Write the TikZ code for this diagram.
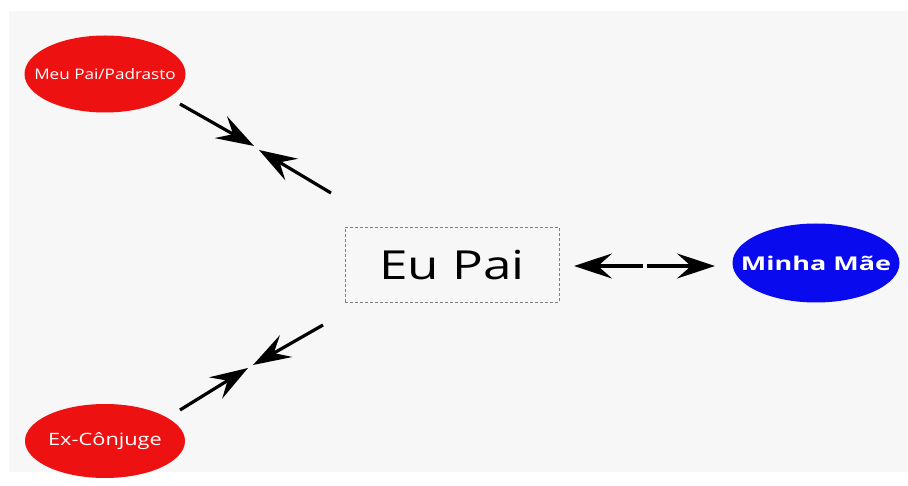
\documentclass[tikz,border=0pt]{standalone}
\usepackage{graphicx}
\usepackage{fontspec}
\setmainfont{Open Sans}
\usetikzlibrary{arrows.meta,shapes.geometric}
\definecolor{bggray}{HTML}{F7F7F7}
\definecolor{nodered}{HTML}{EE1111}
\definecolor{nodeblue}{HTML}{0A0AEE}
\newcommand{\wide}[2]{\makebox[0pt]{\scalebox{#1}[1]{#2}}}
\tikzset{
  relnode/.style={ellipse,draw=none,text=white,inner sep=0pt},
  centerbox/.style={draw=gray,densely dashed,line width=0.8pt,minimum width=214pt,minimum height=75pt,inner sep=0pt,font=\fontsize{40}{44}\selectfont},
  arr/.style={line width=3.2pt,-{Stealth[length=38pt,width=25pt,inset=14pt]}}
}
\begin{document}
\begin{tikzpicture}[x=1pt,y=-1pt]
\useasboundingbox (0,0) rectangle (908,486);
\fill[white] (0,0) rectangle (908,486);
\fill[bggray] (9,11) rectangle (908,472);
\node[relnode,fill=nodered,minimum width=161pt,minimum height=77pt,font=\fontsize{14.5}{16}\selectfont] (mp) at (105,74) {\wide{1.18}{Meu Pai/Padrasto}};
\node[relnode,fill=nodered,minimum width=160pt,minimum height=74pt,font=\fontsize{17}{19}\selectfont] (ex) at (105,441) {\wide{1.28}{Ex-Cônjuge}};
\node[relnode,fill=nodeblue,minimum width=167pt,minimum height=79pt,font=\bfseries\fontsize{19}{21}\selectfont] (mm) at (816,263) {\wide{1.42}{Minha Mãe}};
\node[centerbox] (eu) at (452,265) {\wide{1.28}{Eu Pai}};
% meeting points and free ends
\coordinate (a1) at (180,104);
\coordinate (t1) at (254,146);
\coordinate (t2) at (259,150);
\coordinate (a2) at (331,193);
\coordinate (b1) at (180,410);
\coordinate (u1) at (248,368);
\coordinate (u2) at (253,365);
\coordinate (b2) at (323,325);
\coordinate (c1) at (643,266);
\coordinate (v1) at (574,266);
\coordinate (c2) at (647,266);
\coordinate (v2) at (715,266);
\draw[arr] (a1) -- (t1);
\draw[arr] (a2) -- (t2);
\draw[arr] (b1) -- (u1);
\draw[arr] (b2) -- (u2);
\draw[arr] (c1) -- (v1);
\draw[arr] (c2) -- (v2);
\end{tikzpicture}
\end{document}
